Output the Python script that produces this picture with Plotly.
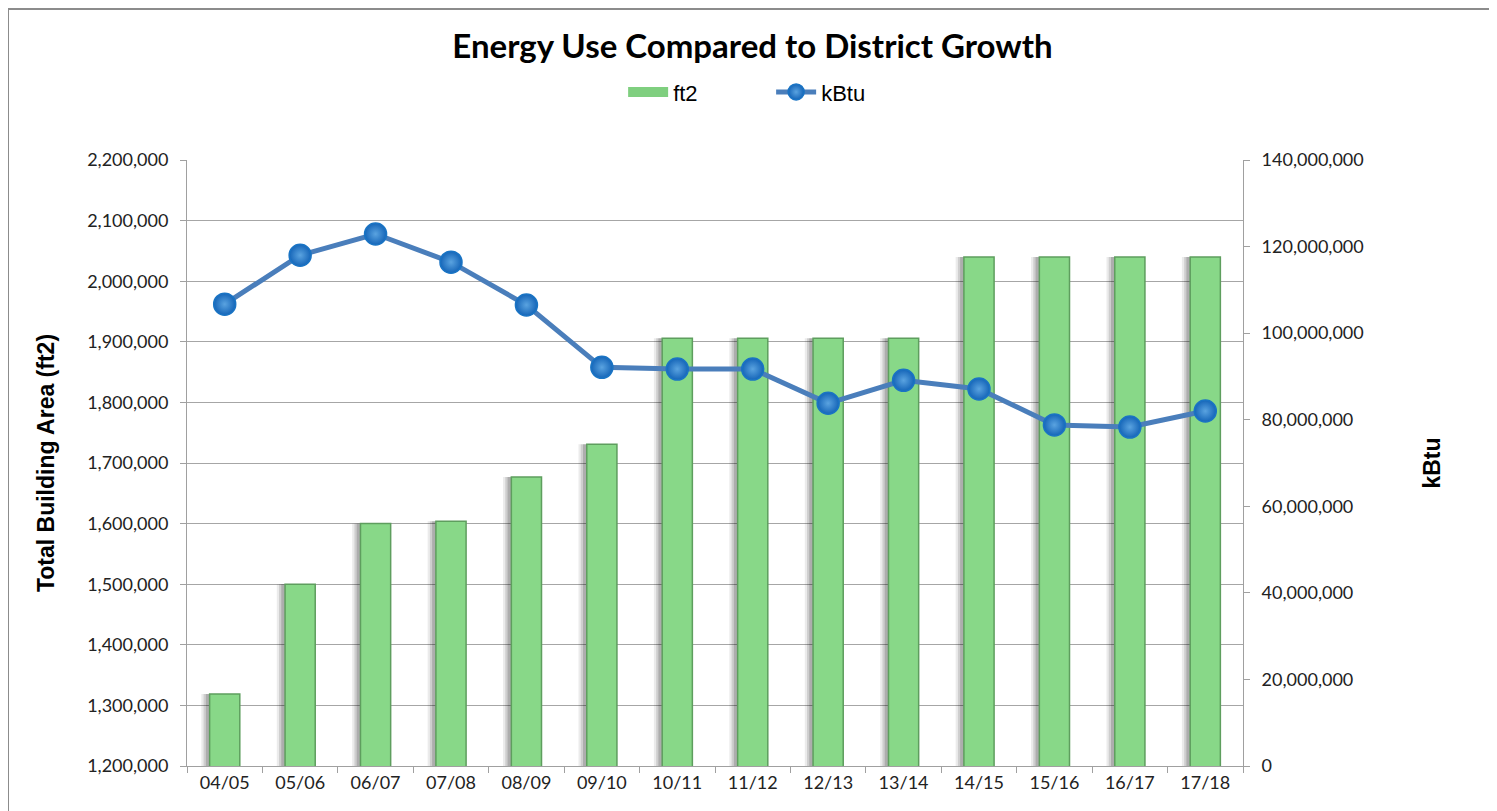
import plotly.graph_objects as go

years = ["04/05", "05/06", "06/07", "07/08", "08/09", "09/10", "10/11",
         "11/12", "12/13", "13/14", "14/15", "15/16", "16/17", "17/18"]
ft2 = [1319000, 1500000, 1600000, 1604000, 1677000, 1731000, 1906000,
       1906000, 1906000, 1906000, 2040000, 2040000, 2040000, 2040000]
kbtu = [106700000, 118000000, 122900000, 116400000, 106500000, 92100000, 91700000,
        91700000, 83800000, 89100000, 87100000, 78800000, 78300000, 82000000]

left_ticks = list(range(1200000, 2200001, 100000))
right_ticks = list(range(0, 140000001, 20000000))

TICKFONT = dict(family="Lato, Open Sans, sans-serif", size=18, color="#222")

fig = go.Figure()

# soft shadow to the left of the bars
for off, alpha in [(-0.31, 0.08), (-0.28, 0.12), (-0.25, 0.16)]:
    fig.add_trace(go.Bar(
        x=years, y=ft2, width=0.4, offset=off,
        marker=dict(color=f"rgba(0,0,0,{alpha})", line=dict(width=0)),
        showlegend=False, hoverinfo="skip", yaxis="y"))

fig.add_trace(go.Bar(
    x=years, y=ft2, name="ft2", width=0.4, offset=-0.2,
    marker=dict(color="#88d888", line=dict(color="#5e9e5e", width=1.5)),
    showlegend=False, yaxis="y"))

# legend entry for bars (wide green swatch)
fig.add_trace(go.Scatter(
    x=[None], y=[None], name="ft2", mode="lines", yaxis="y",
    line=dict(color="#7fcf7f", width=11)))

fig.add_trace(go.Scatter(
    x=years, y=kbtu, name="kBtu", mode="lines+markers", yaxis="y2",
    line=dict(color="#4a7ebb", width=5),
    marker=dict(size=22, color="#1565b8",
                gradient=dict(type="radial", color="#5aa3e0"),
                line=dict(color="#1a74c4", width=1.5))))

fig.update_layout(
    width=1489, height=803,
    margin=dict(l=179, r=254, t=152, b=45),
    paper_bgcolor="white", plot_bgcolor="white",
    barmode="overlay",
    title=dict(text="<b>Energy Use Compared to District Growth</b>",
               x=0.5, xanchor="center", y=0.9527, yanchor="middle",
               font=dict(family="Lato, Liberation Sans, sans-serif", size=33, color="black")),
    legend=dict(orientation="h", x=0.413, xanchor="left", y=1.112, yanchor="middle",
                font=dict(family="Liberation Sans, Arial, sans-serif", size=22, color="black"),
                itemwidth=40, entrywidthmode="pixels", entrywidth=93),
    font=dict(family="Liberation Sans, Arial, sans-serif", size=17, color="#222"),
    xaxis=dict(type="category", range=[-0.5, 13.5], autorange=False,
               showgrid=False, ticks="outside", tickson="boundaries",
               ticklen=6, tickcolor="#a0a0a0", showline=True, linecolor="#a0a0a0", linewidth=1,
               tickfont=TICKFONT),
    yaxis=dict(range=[1200000, 2200000], tickvals=left_ticks, tickformat=",d",
               showgrid=True, gridcolor="#a6a6a6", gridwidth=1, tickfont=TICKFONT,
               showline=True, linecolor="#a0a0a0", ticks="outside", ticklen=6, tickcolor="#a0a0a0",
               ticklabelstandoff=8, zeroline=False,
               title=dict(text="<b>Total Building Area (ft2)</b>", standoff=26,
                          font=dict(family="Liberation Sans, Arial, sans-serif", size=23, color="black"))),
    yaxis2=dict(range=[0, 140000000], tickvals=right_ticks, tickformat=",d",
                overlaying="y", side="right", showgrid=False, zeroline=False, tickfont=TICKFONT,
                showline=True, linecolor="#a0a0a0", ticks="outside", ticklen=6, tickcolor="#a0a0a0",
                ticklabelstandoff=8,
                title=dict(text="<b>kBtu</b>", standoff=61,
                           font=dict(family="Liberation Sans, Arial, sans-serif", size=23, color="black"))),
)

fig.add_shape(type="rect", xref="paper", yref="paper",
              x0=-0.1695, x1=1.2358, y0=-0.2, y1=1.2492,
              line=dict(color="#8c8c8c", width=2), layer="below")

fig.write_html("out.html")
